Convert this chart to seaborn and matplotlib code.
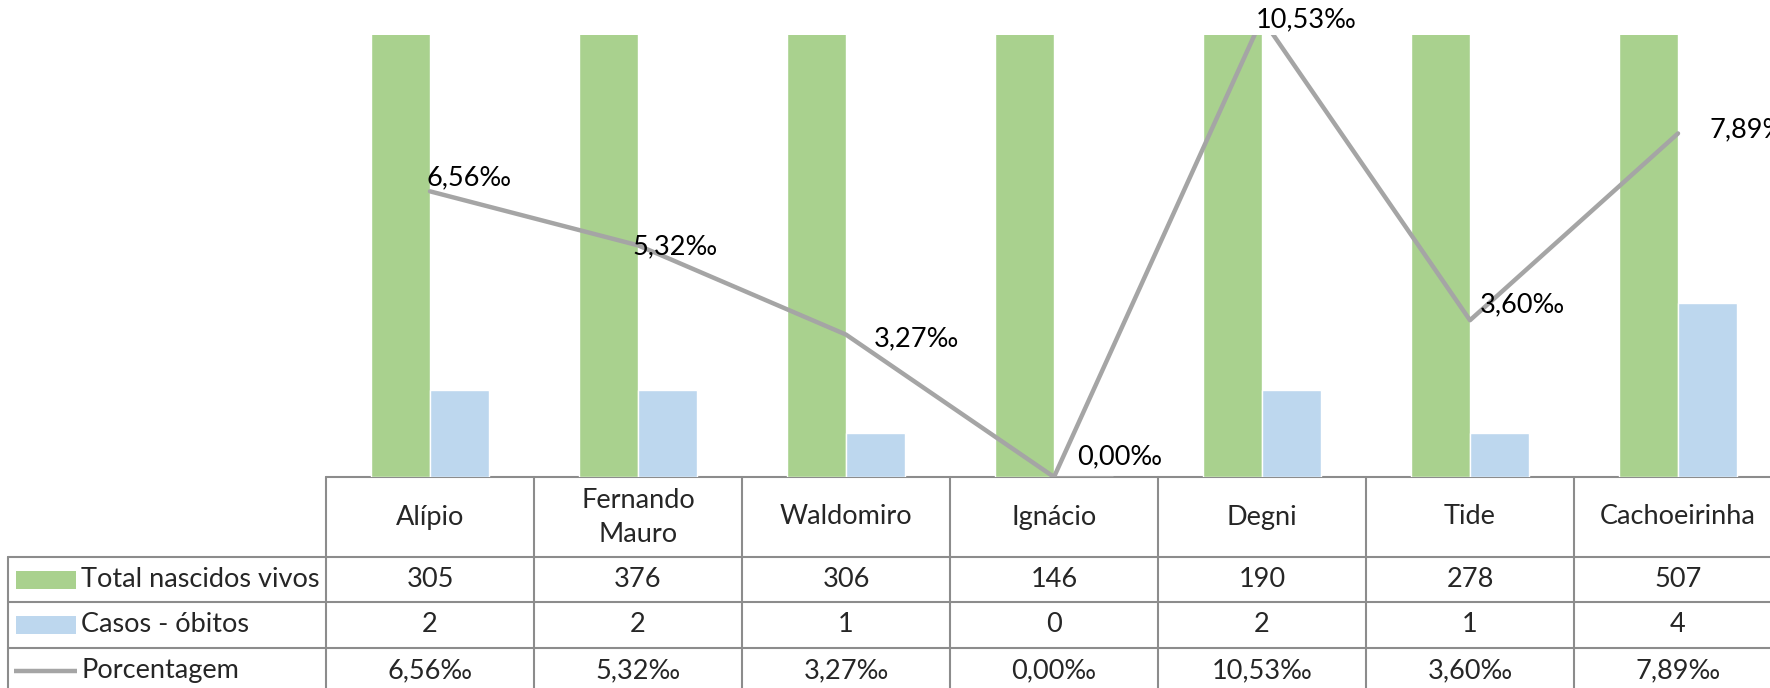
import numpy as np
import pandas as pd
import seaborn as sns
import matplotlib.pyplot as plt
from matplotlib.patches import Rectangle

# Data
bairros = ['Alípio', 'Fernando\nMauro', 'Waldomiro', 'Ignácio', 'Degni', 'Tide', 'Cachoeirinha']
nascidos = [305, 376, 306, 146, 190, 278, 507]
obitos = [2, 2, 1, 0, 2, 1, 4]
porcentagem = [6.56, 5.32, 3.27, 0.00, 10.53, 3.60, 7.89]
series = ['Total nascidos vivos', 'Casos - óbitos', 'Porcentagem']

verde = '#A9D18E'
azul = '#BDD7EE'
cinza = '#A5A5A5'
grade = '#8C8C8C'

sns.set_theme(style='white')
plt.rcParams['font.family'] = ['Lato', 'DejaVu Sans']
fs = 19.5

# Layout (pixels of the 1770x688 output)
W, H = 1770, 688
x0 = 326      # left edge of the first category column
col = 208     # width of a category column
top = 35      # top of the plot area
base = 477    # bottom of the plot area / top of the table
row_lines = [557, 602, 648]
row_h = 45
xl = 8        # left edge of the legend column

fig = plt.figure(figsize=(W / 100, H / 100), dpi=100)

# Table axes in pixel coordinates
tab = fig.add_axes([0, 0, 1, 1])
tab.set_xlim(0, W)
tab.set_ylim(H, 0)
tab.axis('off')

# Chart axes
ax = fig.add_axes([x0 / W, (H - base) / H, len(bairros) * col / W, (base - top) / H])

df = pd.DataFrame({
    'bairro': bairros * 2,
    'valor': nascidos + obitos,
    'serie': [series[0]] * len(bairros) + [series[1]] * len(bairros),
})
sns.barplot(data=df, x='bairro', y='valor', hue='serie', palette=[verde, azul],
            width=0.57, saturation=1, edgecolor='white', linewidth=1,
            legend=False, ax=ax)
sns.lineplot(x=np.arange(len(bairros)), y=porcentagem, color=cinza, lw=3.2,
             sort=False, ax=ax)
ax.set_xlim(-0.5, len(bairros) - 0.5)
ax.set_ylim(0, 10.15)
ax.axis('off')

# Data labels on the line
offsets = [(-3, 14), (-6, -1), (28, -4), (23, 20), (-6, -1), (10, 15), (32, 4)]
for i, (v, (dx, dy)) in enumerate(zip(porcentagem, offsets)):
    ax.annotate(f'{v:.2f}‰'.replace('.', ','), (i, v), xytext=(dx, dy),
                textcoords='offset pixels', ha='left', va='center',
                fontsize=fs, color='black', annotation_clip=False)

# Data table grid
lw = 1.5
tab.plot([x0, W], [base, base], color=grade, lw=lw)
for y in row_lines:
    tab.plot([xl, W], [y, y], color=grade, lw=lw)
tab.plot([xl, xl], [row_lines[0], H], color=grade, lw=lw)
for k in range(len(bairros)):
    xk = x0 + k * col
    tab.plot([xk, xk], [base, H], color=grade, lw=lw)

# Header and values
for i, nome in enumerate(bairros):
    cx = x0 + (i + 0.5) * col
    tab.text(cx, (base + row_lines[0]) / 2, nome, ha='center', va='center',
             fontsize=fs, linespacing=1.45)
    valores = [str(nascidos[i]), str(obitos[i]), f'{porcentagem[i]:.2f}‰'.replace('.', ',')]
    for r, txt in enumerate(valores):
        cy = row_lines[r] + row_h / 2
        tab.text(cx, cy, txt, ha='center', va='center', fontsize=fs)

# Legend keys and row labels
for r, nome in enumerate(series):
    cy = row_lines[r] + row_h / 2
    if r < 2:
        tab.add_patch(Rectangle((16, cy - 9), 60, 18, color=[verde, azul][r], lw=0))
    else:
        tab.plot([14, 77], [cy, cy], color=cinza, lw=3.2, solid_capstyle='butt')
    tab.text(81, cy, nome, ha='left', va='center', fontsize=fs)

fig.savefig('out.png', dpi=100)
